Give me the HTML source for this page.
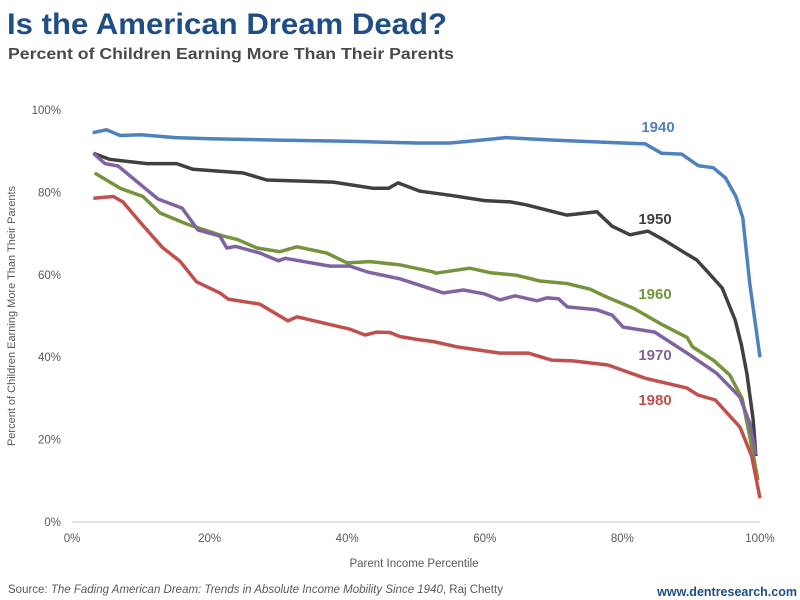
<!DOCTYPE html>
<html><head><meta charset="utf-8"><style>
html,body{margin:0;padding:0;background:#fff;width:800px;height:600px;overflow:hidden}
svg{display:block}
text{font-family:"Liberation Sans",sans-serif}
</style></head><body>
<svg id="chart" width="800" height="600" xmlns="http://www.w3.org/2000/svg">
<text x="7" y="34" font-size="30" font-weight="bold" fill="#1f4e86" textLength="440" lengthAdjust="spacingAndGlyphs">Is the American Dream Dead?</text>
<text x="8" y="59" font-size="16" font-weight="bold" fill="#4a4a4a" textLength="446" lengthAdjust="spacingAndGlyphs">Percent of Children Earning More Than Their Parents</text>
<line x1="72" y1="522" x2="760" y2="522" stroke="#d9d9d9" stroke-width="1.5"/>
<g id="yticks"></g>
<g id="xticks"></g>
<text transform="translate(15,316) rotate(-90)" text-anchor="middle" font-size="11" fill="#595959">Percent of Children Earning More Than Their Parents</text>
<text x="414" y="567" text-anchor="middle" font-size="11.5" fill="#595959">Parent Income Percentile</text>
<g id="series"></g>
<text x="8" y="593" font-size="11.5" fill="#595959">Source: <tspan font-style="italic">The Fading American Dream: Trends in Absolute Income Mobility Since 1940</tspan>, Raj Chetty</text>
<text x="797" y="596" text-anchor="end" font-size="12.5" font-weight="bold" fill="#1f4e86">www.dentresearch.com</text>
</svg>
<script>
const yTickValues=[0,20,40,60,80,100];
const xTickValues=[0,20,40,60,80,100];
const seriesNames=["1940","1950","1960","1970","1980"];
const seriesColors=["#4f81bd","#404040","#77933c","#8064a2","#c0504d"];
const x1940=[3,5,7,10,15,20,30,40,50,55,60,63,70,80,83.3,85.7,88.6,91,93.2,95,96.5,97.5,98.5,100];
const y1940=[94.5,95.2,93.8,94,93.3,93,92.7,92.4,92,92,92.8,93.3,92.7,92,91.8,89.5,89.3,86.5,86,83.5,79,73.8,58,40];
const x1950=[3.1,5.5,10.9,15.2,17.6,24.9,28.3,38,43.8,46,47.4,50.6,55,60,63.7,66,71.9,76.3,78.5,81.1,83.7,86,88.8,90.8,92.5,94.5,96.4,97.3,98.1,99,99.4];
const y1950=[89.5,88,87,87,85.6,84.7,83,82.5,81,81,82.3,80.3,79.3,78,77.7,77,74.5,75.3,71.8,69.7,70.6,68.5,65.6,63.6,60.5,56.8,49,43,36,25,16];
const x1960=[3.3,7,10.3,12.8,16.7,22,24,26.9,30.2,32.7,37,40,43.3,47.7,52.5,52.9,57.8,60.8,64.6,68,71.9,75.3,77.7,81.6,85.9,89.4,90.2,93.2,95.6,97.4,98.6,99.7];
const y1960=[84.7,81,79,75,72.3,69.4,68.6,66.5,65.6,66.8,65.3,62.9,63.2,62.4,60.7,60.4,61.6,60.5,59.9,58.5,57.9,56.5,54.6,51.9,47.8,44.8,42.5,39.3,35.7,30,20,10.2];
const x1970=[3.1,4.8,6.7,12.5,16,18.3,21.5,22.5,23.8,27.3,30,31,37.5,40.4,42.9,47.7,54,56.9,59.9,62.2,64.4,67.6,69,70.7,72,76.3,78.5,80.1,84.7,89.4,93.7,97.1,98.5,99.4];
const y1970=[89.5,87,86.4,78.4,76.2,70.9,69.4,66.5,66.9,65.3,63.4,64,62.1,62.1,60.7,59,55.6,56.3,55.4,53.9,54.9,53.7,54.4,54.2,52.2,51.5,50.2,47.3,46.1,41,36.1,30.3,24,16.3];
const x1980=[3.1,6,7.4,9.9,13.1,15.7,18.1,21.5,22.7,27.3,31.4,32.7,40.4,42.6,44.3,46.2,47.7,50.6,52.5,56,62.2,66.3,69.7,72.8,77.9,83.3,89.4,91,93.5,97.1,98.8,100];
const y1980=[78.6,79,77.7,72.8,66.7,63.3,58.3,55.6,54.1,52.9,48.8,49.8,46.8,45.4,46.1,46,45,44.2,43.8,42.5,41,41,39.3,39.1,38.1,34.9,32.5,30.8,29.6,23,16,5.8];
const labelNames=["1940","1950","1960","1970","1980"];
const labelPos=[[658,132],[655,224],[655,299],[655,360],[655,405]];

const xs=[x1940,x1950,x1960,x1970,x1980], ys=[y1940,y1950,y1960,y1970,y1980];
const X=p=>72+p*6.88, Y=v=>522-v*4.12;
const NS="http://www.w3.org/2000/svg";
const yt=document.getElementById('yticks'), xt=document.getElementById('xticks'), sg=document.getElementById('series');
yTickValues.forEach(v=>{
  const t=document.createElementNS(NS,'text');
  t.setAttribute('x',61);t.setAttribute('y',Y(v)+4);t.setAttribute('text-anchor','end');
  t.setAttribute('font-size','11.5');t.setAttribute('fill','#595959');t.textContent=v+'%';
  
  
  yt.appendChild(t);
});
xTickValues.forEach(v=>{
  const t=document.createElementNS(NS,'text');
  t.setAttribute('x',X(v));t.setAttribute('y',542);t.setAttribute('text-anchor','middle');
  t.setAttribute('font-size','11.5');t.setAttribute('fill','#595959');t.textContent=v+'%';
  
  
  xt.appendChild(t);
});
seriesNames.forEach((n,i)=>{
  const p=document.createElementNS(NS,'polyline');
  p.setAttribute('points',xs[i].map((x,j)=>X(x).toFixed(1)+','+Y(ys[i][j]).toFixed(1)).join(' '));
  p.setAttribute('fill','none');p.setAttribute('stroke',seriesColors[i]);p.setAttribute('stroke-width','3.5');
  p.setAttribute('stroke-linejoin','round');
  
  
  sg.appendChild(p);
  const t=document.createElementNS(NS,'text');
  t.setAttribute('x',labelPos[i][0]);t.setAttribute('y',labelPos[i][1]);t.setAttribute('text-anchor','middle');
  t.setAttribute('font-size','15');t.setAttribute('font-weight','bold');t.setAttribute('fill',seriesColors[i]);
  t.textContent=labelNames[i];
  
  
  sg.appendChild(t);
});
</script>
</body></html>
